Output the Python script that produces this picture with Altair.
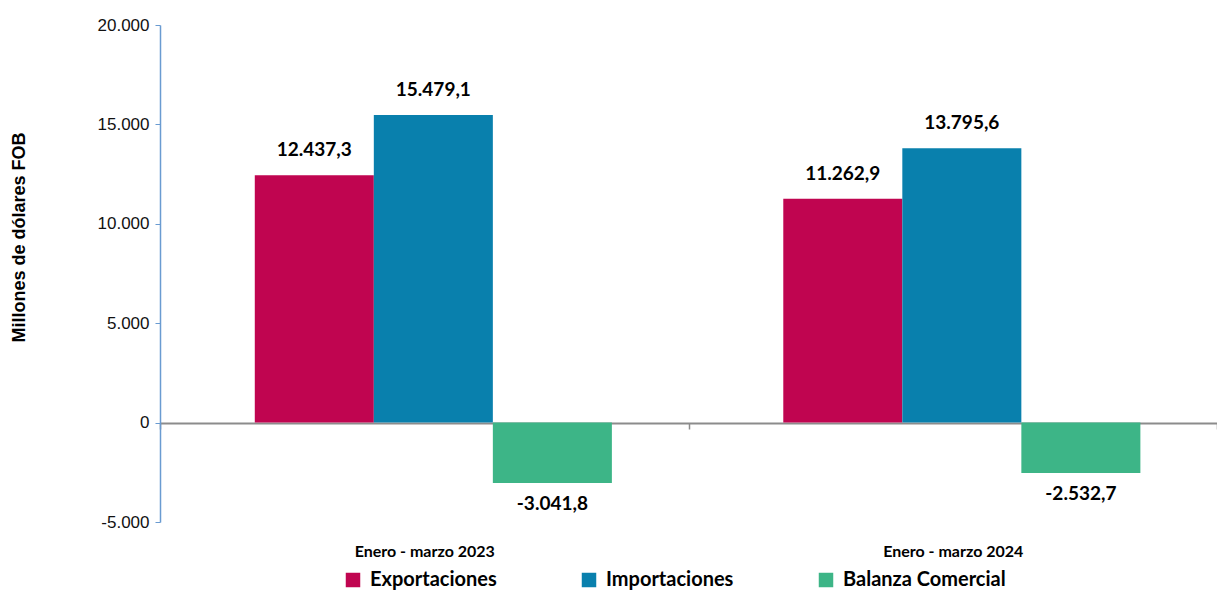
import altair as alt
import pandas as pd

periods = ["Enero - marzo 2023", "Enero - marzo 2024"]
series = ["Exportaciones", "Importaciones", "Balanza Comercial"]
exportaciones = [12437.3, 11262.9]
importaciones = [15479.1, 13795.6]
balanza = [-3041.8, -2532.7]
colors = ["#C00550", "#0980AD", "#3DB587"]

rows = []
for i, p in enumerate(periods):
    for s, vals in zip(series, [exportaciones, importaciones, balanza]):
        v = vals[i]
        txt = f"{v:,.1f}".replace(",", "X").replace(".", ",").replace("X", ".")
        rows.append({"periodo": p, "serie": s, "valor": v, "etiqueta": txt})
df = pd.DataFrame(rows)

LABEL_FONT = "Lato, Roboto, sans-serif"

x_scale = alt.Scale(paddingInner=0, paddingOuter=0)
x_axis = alt.Axis(
    orient="bottom",
    offset=-99,
    domainColor="#8C8C8C",
    domainWidth=2,
    tickColor="#8C8C8C",
    tickWidth=1.5,
    tickSize=6,
    tickBand="extent",
    labelAngle=0,
    labelPadding=114,
    labelFont=LABEL_FONT,
    labelFontSize=16,
    labelFontWeight="bold",
    labelColor="#000000",
)
x_enc = alt.X("periodo:N", sort=periods, title=None, scale=x_scale, axis=x_axis)
xoff = alt.XOffset(
    "serie:N", sort=series,
    scale=alt.Scale(paddingInner=0, paddingOuter=0.72, align=0.553),
)

y_axis = alt.Axis(
    values=[-5000, 0, 5000, 10000, 15000, 20000],
    labelExpr="replace(replace(format(datum.value, ','), ',', '.'), '\u2212', '-')",
    grid=False,
    domainColor="#6A9BD1",
    domainWidth=1.5,
    tickColor="#6A9BD1",
    tickSize=5,
    labelFont="Liberation Sans, Arial, sans-serif",
    labelFontSize=17,
    labelColor="#111111",
    labelPadding=6,
    title="Millones de dólares FOB",
    titleFont="Liberation Sans, Arial, sans-serif",
    titleFontSize=18,
    titleFontWeight="bold",
    titleColor="#000000",
    titleAngle=270,
    titleBaseline="middle",
    titleAlign="center",
    titleX=-141,
    titleY=212,
)
y_scale = alt.Scale(domain=[-5000, 20000], nice=False, zero=False)
y_enc = alt.Y("valor:Q", title="Millones de dólares FOB", scale=y_scale, axis=y_axis)

color_enc = alt.Color(
    "serie:N",
    sort=series,
    scale=alt.Scale(domain=series, range=colors),
    legend=alt.Legend(
        title=None,
        orient="none",
        direction="horizontal",
        legendX=183,
        legendY=545,
        symbolType="square",
        symbolSize=210,
        symbolStrokeWidth=0,
        symbolOpacity=1,
        labelFont=LABEL_FONT,
        labelFontSize=20,
        labelFontWeight="bold",
        labelColor="#000000",
        labelOffset=7,
        gridAlign="none",
        columnPadding=82,
        labelLimit=300,
    ),
)

bars = alt.Chart(df).mark_bar().encode(
    x=x_enc, xOffset=xoff, y=y_enc, color=color_enc
)

base_text = alt.Chart(df).encode(
    x=x_enc,
    xOffset=xoff,
    y=y_enc,
    text="etiqueta:N",
)
pos_text = base_text.transform_filter("datum.valor >= 0").mark_text(
    baseline="bottom", dy=-15, font=LABEL_FONT, fontSize=19, fontWeight="bold", color="#000000"
)
neg_text = base_text.transform_filter("datum.valor < 0").mark_text(
    baseline="top", dy=12, font=LABEL_FONT, fontSize=19, fontWeight="bold", color="#000000"
)

chart = (
    alt.layer(bars, pos_text, neg_text)
    .properties(
        width=1057,
        height=497,
        autosize=alt.AutoSizeParams(type="none"),
        padding={"left": 152, "top": 17, "right": 0, "bottom": 69},
    )
    .configure_view(stroke=None)
)

chart.save("out.html", embed_options={"renderer": "svg", "actions": False})
